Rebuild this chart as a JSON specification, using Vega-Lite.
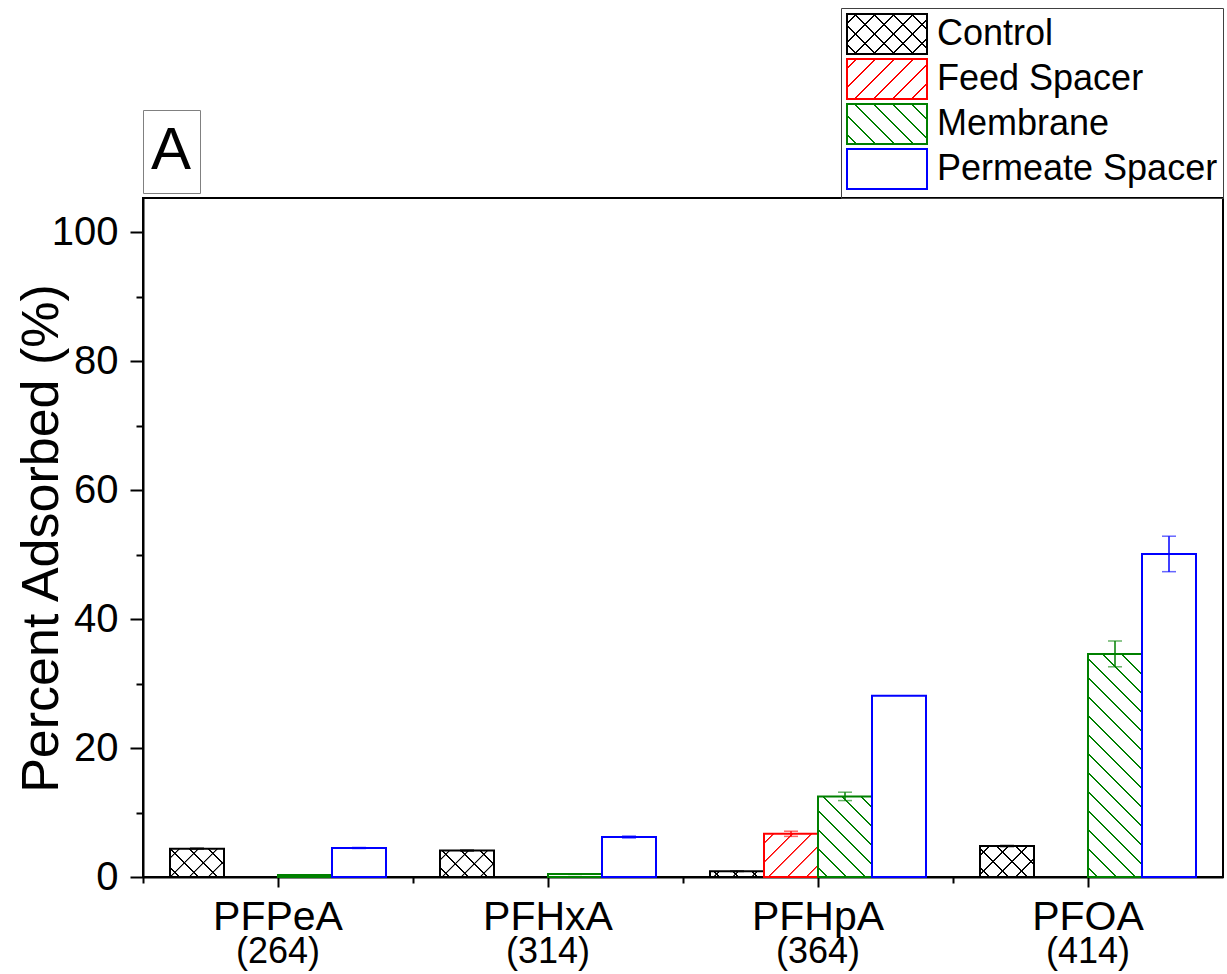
{
"$schema": "https://vega.github.io/schema/vega-lite/v6.json",
"width": 1080, "height": 679,
"autosize": {"type": "none"},
"padding": {"left": 143, "top": 198, "right": 4, "bottom": 97},
"background": "white",
"title": {"text": "A", "anchor": "start", "frame": "group", "fontSize": 60, "font": "Liberation Sans", "fontWeight": "normal", "color": "black", "baseline": "alphabetic", "offset": -221, "dx": 8},
"config": {"view": {"stroke": "black", "strokeWidth": 2}, "font": "Liberation Sans"},
"datasets": {"pfas": [
 {"cat": "PFPeA", "group": "Control", "value": 4.4, "err": 0.1},
 {"cat": "PFPeA", "group": "Feed Spacer", "value": 0, "err": 0},
 {"cat": "PFPeA", "group": "Membrane", "value": 0.3, "err": 0},
 {"cat": "PFPeA", "group": "Permeate Spacer", "value": 4.5, "err": 0.08},
 {"cat": "PFHxA", "group": "Control", "value": 4.1, "err": 0.1},
 {"cat": "PFHxA", "group": "Feed Spacer", "value": 0, "err": 0},
 {"cat": "PFHxA", "group": "Membrane", "value": 0.45, "err": 0.05},
 {"cat": "PFHxA", "group": "Permeate Spacer", "value": 6.2, "err": 0.15},
 {"cat": "PFHpA", "group": "Control", "value": 0.9, "err": 0.05},
 {"cat": "PFHpA", "group": "Feed Spacer", "value": 6.7, "err": 0.4},
 {"cat": "PFHpA", "group": "Membrane", "value": 12.5, "err": 0.65},
 {"cat": "PFHpA", "group": "Permeate Spacer", "value": 28.1, "err": 0},
 {"cat": "PFOA", "group": "Control", "value": 4.8, "err": 0.1},
 {"cat": "PFOA", "group": "Feed Spacer", "value": 0, "err": 0},
 {"cat": "PFOA", "group": "Membrane", "value": 34.6, "err": 2.0},
 {"cat": "PFOA", "group": "Permeate Spacer", "value": 50.1, "err": 2.75}
]},
"data": {"name": "pfas"},
"resolve": {"axis": {"x": "independent", "y": "independent"}, "scale": {"color": "independent"}},
"layer": [
{
 "transform": [{"filter": "datum.value > 0"}],
 "mark": {"type": "bar", "strokeWidth": 2},
 "encoding": {
  "x": {"field": "cat", "type": "nominal", "sort": ["PFPeA", "PFHxA", "PFHpA", "PFOA"],
   "scale": {"domain": ["PFPeA", "PFHxA", "PFHpA", "PFOA"], "paddingInner": 0.2, "paddingOuter": 0.1},
   "axis": {"orient": "bottom", "title": null, "labelAngle": 0, "labelFontSize": 41, "labelFont": "Liberation Sans", "labelColor": "black", "tickSize": 10, "tickWidth": 2, "tickColor": "black", "domainWidth": 2, "domainColor": "black", "labelPadding": 10, "grid": false, "labelBaseline": "top"}},
  "xOffset": {"field": "group", "type": "nominal", "scale": {"domain": ["Control", "Feed Spacer", "Membrane", "Permeate Spacer"], "paddingInner": 0, "paddingOuter": 0}},
  "y": {"field": "value", "type": "quantitative", "scale": {"domain": [0, 105.3], "nice": false, "zero": true},
   "axis": {"orient": "left", "title": "Percent Adsorbed (%)", "titleFontSize": 52, "titleFont": "Liberation Sans", "titleFontWeight": "normal", "titleColor": "black", "titleX": -86, "titleY": 340, "titleAngle": -90, "titleBaseline": "alphabetic", "titleAlign": "center",
    "values": [0, 20, 40, 60, 80, 100], "labelFontSize": 40, "labelFont": "Liberation Sans", "labelColor": "black", "labelPadding": 12,
    "tickSize": 13, "tickWidth": 2, "tickColor": "black", "domainWidth": 2, "domainColor": "black", "grid": false}},
  "stroke": {"condition": [
   {"test": "datum.group === 'Control'", "value": "#000000"},
   {"test": "datum.group === 'Feed Spacer'", "value": "#ff0000"},
   {"test": "datum.group === 'Membrane'", "value": "#008000"}], "value": "#0000ff"},
  "fill": {"condition": [
   {"test": "datum.group === 'Control' && datum.cat === 'PFPeA'", "value": {"gradient": "linear", "x1": 0, "y1": 0, "x2": 1.1954, "y2": 0.6281, "stops": [{"offset": 0.1008, "color": "#fff"}, {"offset": 0.1093, "color": "#000"}, {"offset": 0.1214, "color": "#000"}, {"offset": 0.1299, "color": "#fff"}, {"offset": 0.3314, "color": "#fff"}, {"offset": 0.3399, "color": "#000"}, {"offset": 0.3521, "color": "#000"}, {"offset": 0.3606, "color": "#fff"}, {"offset": 0.5621, "color": "#fff"}, {"offset": 0.5706, "color": "#000"}, {"offset": 0.5827, "color": "#000"}, {"offset": 0.5912, "color": "#fff"}, {"offset": 0.7928, "color": "#fff"}, {"offset": 0.8013, "color": "#000"}, {"offset": 0.8134, "color": "#000"}, {"offset": 0.8219, "color": "#fff"}]}},
   {"test": "datum.group === 'Control' && datum.cat === 'PFHxA'", "value": {"gradient": "linear", "x1": 0, "y1": 0, "x2": 1.2016, "y2": 0.5883, "stops": [{"offset": 0.1032, "color": "#fff"}, {"offset": 0.1119, "color": "#000"}, {"offset": 0.1243, "color": "#000"}, {"offset": 0.133, "color": "#fff"}, {"offset": 0.3394, "color": "#fff"}, {"offset": 0.3481, "color": "#000"}, {"offset": 0.3605, "color": "#000"}, {"offset": 0.3692, "color": "#fff"}, {"offset": 0.5756, "color": "#fff"}, {"offset": 0.5843, "color": "#000"}, {"offset": 0.5967, "color": "#000"}, {"offset": 0.6054, "color": "#fff"}, {"offset": 0.8118, "color": "#fff"}, {"offset": 0.8205, "color": "#000"}, {"offset": 0.8329, "color": "#000"}, {"offset": 0.8416, "color": "#fff"}]}},
   {"test": "datum.group === 'Control' && datum.cat === 'PFHpA'", "value": {"gradient": "linear", "x1": 0, "y1": 0, "x2": 1.0948, "y2": 0.1176, "stops": [{"offset": 0.1388, "color": "#fff"}, {"offset": 0.1505, "color": "#000"}, {"offset": 0.1672, "color": "#000"}, {"offset": 0.1789, "color": "#fff"}, {"offset": 0.4565, "color": "#fff"}, {"offset": 0.4682, "color": "#000"}, {"offset": 0.4849, "color": "#000"}, {"offset": 0.4967, "color": "#fff"}, {"offset": 0.7742, "color": "#fff"}, {"offset": 0.786, "color": "#000"}, {"offset": 0.8027, "color": "#000"}, {"offset": 0.8144, "color": "#fff"}]}},
   {"test": "datum.group === 'Control' && datum.cat === 'PFOA'", "value": {"gradient": "linear", "x1": 0, "y1": 0, "x2": 1.1842, "y2": 0.6787, "stops": [{"offset": 0.0977, "color": "#fff"}, {"offset": 0.1059, "color": "#000"}, {"offset": 0.1177, "color": "#000"}, {"offset": 0.126, "color": "#fff"}, {"offset": 0.3214, "color": "#fff"}, {"offset": 0.3296, "color": "#000"}, {"offset": 0.3414, "color": "#000"}, {"offset": 0.3496, "color": "#fff"}, {"offset": 0.545, "color": "#fff"}, {"offset": 0.5533, "color": "#000"}, {"offset": 0.565, "color": "#000"}, {"offset": 0.5733, "color": "#fff"}, {"offset": 0.7687, "color": "#fff"}, {"offset": 0.7769, "color": "#000"}, {"offset": 0.7887, "color": "#000"}, {"offset": 0.7969, "color": "#fff"}]}},
   {"test": "datum.group === 'Feed Spacer' && datum.cat === 'PFHpA'", "value": {"gradient": "linear", "x1": 0, "y1": 0, "x2": 1.09756, "y2": 0.87805, "stops": [{"offset": 0.0854, "color": "#fff"}, {"offset": 0.0926, "color": "#f00"}, {"offset": 0.1029, "color": "#f00"}, {"offset": 0.1101, "color": "#fff"}, {"offset": 0.2809, "color": "#fff"}, {"offset": 0.2881, "color": "#f00"}, {"offset": 0.2984, "color": "#f00"}, {"offset": 0.3056, "color": "#fff"}, {"offset": 0.4763, "color": "#fff"}, {"offset": 0.4835, "color": "#f00"}, {"offset": 0.4938, "color": "#f00"}, {"offset": 0.501, "color": "#fff"}, {"offset": 0.6718, "color": "#fff"}, {"offset": 0.679, "color": "#f00"}, {"offset": 0.6893, "color": "#f00"}, {"offset": 0.6965, "color": "#fff"}, {"offset": 0.8673, "color": "#fff"}, {"offset": 0.8745, "color": "#f00"}, {"offset": 0.8848, "color": "#f00"}, {"offset": 0.892, "color": "#fff"}]}},
   {"test": "datum.group === 'Membrane' && datum.cat === 'PFHpA'", "value": {"gradient": "linear", "x1": 0, "y1": 1, "x2": 0.77223, "y2": -0.15263, "stops": [{"offset": 0.0617, "color": "#fff"}, {"offset": 0.0669, "color": "#008000"}, {"offset": 0.0743, "color": "#008000"}, {"offset": 0.0795, "color": "#fff"}, {"offset": 0.2028, "color": "#fff"}, {"offset": 0.208, "color": "#008000"}, {"offset": 0.2155, "color": "#008000"}, {"offset": 0.2207, "color": "#fff"}, {"offset": 0.344, "color": "#fff"}, {"offset": 0.3492, "color": "#008000"}, {"offset": 0.3566, "color": "#008000"}, {"offset": 0.3618, "color": "#fff"}, {"offset": 0.4851, "color": "#fff"}, {"offset": 0.4903, "color": "#008000"}, {"offset": 0.4978, "color": "#008000"}, {"offset": 0.503, "color": "#fff"}, {"offset": 0.6263, "color": "#fff"}, {"offset": 0.6315, "color": "#008000"}, {"offset": 0.6389, "color": "#008000"}, {"offset": 0.6441, "color": "#fff"}, {"offset": 0.7675, "color": "#fff"}, {"offset": 0.7727, "color": "#008000"}, {"offset": 0.7801, "color": "#008000"}, {"offset": 0.7853, "color": "#fff"}, {"offset": 0.9086, "color": "#fff"}, {"offset": 0.9138, "color": "#008000"}, {"offset": 0.9212, "color": "#008000"}, {"offset": 0.9264, "color": "#fff"}]}},
   {"test": "datum.group === 'Membrane' && datum.cat === 'PFOA'", "value": {"gradient": "linear", "x1": 0, "y1": 1, "x2": 0.28398, "y2": -0.17331, "stops": [{"offset": 0.02995, "color": "#fff"}, {"offset": 0.03248, "color": "#008000"}, {"offset": 0.03608, "color": "#008000"}, {"offset": 0.03861, "color": "#fff"}, {"offset": 0.09852, "color": "#fff"}, {"offset": 0.10105, "color": "#008000"}, {"offset": 0.10465, "color": "#008000"}, {"offset": 0.10718, "color": "#fff"}, {"offset": 0.16708, "color": "#fff"}, {"offset": 0.16961, "color": "#008000"}, {"offset": 0.17321, "color": "#008000"}, {"offset": 0.17574, "color": "#fff"}, {"offset": 0.23565, "color": "#fff"}, {"offset": 0.23818, "color": "#008000"}, {"offset": 0.24178, "color": "#008000"}, {"offset": 0.24431, "color": "#fff"}, {"offset": 0.30421, "color": "#fff"}, {"offset": 0.30674, "color": "#008000"}, {"offset": 0.31034, "color": "#008000"}, {"offset": 0.31287, "color": "#fff"}, {"offset": 0.37278, "color": "#fff"}, {"offset": 0.37531, "color": "#008000"}, {"offset": 0.37891, "color": "#008000"}, {"offset": 0.38144, "color": "#fff"}, {"offset": 0.44134, "color": "#fff"}, {"offset": 0.44387, "color": "#008000"}, {"offset": 0.44747, "color": "#008000"}, {"offset": 0.45, "color": "#fff"}, {"offset": 0.50991, "color": "#fff"}, {"offset": 0.51244, "color": "#008000"}, {"offset": 0.51604, "color": "#008000"}, {"offset": 0.51857, "color": "#fff"}, {"offset": 0.57847, "color": "#fff"}, {"offset": 0.581, "color": "#008000"}, {"offset": 0.5846, "color": "#008000"}, {"offset": 0.58713, "color": "#fff"}, {"offset": 0.64704, "color": "#fff"}, {"offset": 0.64957, "color": "#008000"}, {"offset": 0.65317, "color": "#008000"}, {"offset": 0.6557, "color": "#fff"}, {"offset": 0.7156, "color": "#fff"}, {"offset": 0.71813, "color": "#008000"}, {"offset": 0.72173, "color": "#008000"}, {"offset": 0.72426, "color": "#fff"}, {"offset": 0.78417, "color": "#fff"}, {"offset": 0.7867, "color": "#008000"}, {"offset": 0.7903, "color": "#008000"}, {"offset": 0.79283, "color": "#fff"}, {"offset": 0.85273, "color": "#fff"}, {"offset": 0.85526, "color": "#008000"}, {"offset": 0.85886, "color": "#008000"}, {"offset": 0.86139, "color": "#fff"}, {"offset": 0.9213, "color": "#fff"}, {"offset": 0.92383, "color": "#008000"}, {"offset": 0.92743, "color": "#008000"}, {"offset": 0.92996, "color": "#fff"}, {"offset": 0.98986, "color": "#fff"}, {"offset": 0.99239, "color": "#008000"}, {"offset": 0.99599, "color": "#008000"}, {"offset": 0.99852, "color": "#fff"}]}}
  ], "value": "#ffffff"}
 }
},
{
 "transform": [{"filter": "datum.group === 'Control'"}],
 "mark": {"type": "bar", "strokeWidth": 0},
 "encoding": {
  "x": {"field": "cat", "type": "nominal", "sort": ["PFPeA", "PFHxA", "PFHpA", "PFOA"],
   "scale": {"domain": ["PFPeA", "PFHxA", "PFHpA", "PFOA"], "paddingInner": 0.2, "paddingOuter": 0.1},
   "axis": {"orient": "bottom", "title": null, "domain": false, "bandPosition": -0.125, "tickSize": 6, "tickWidth": 2, "tickColor": "black", "labelAngle": 0, "labelFontSize": 36, "labelFont": "Liberation Sans", "labelColor": "black", "labelOffset": 0, "labelPadding": 51, "labelBaseline": "top", "grid": false,
    "labelExpr": "datum.value === 'PFPeA' ? '(264)' : datum.value === 'PFHxA' ? '(314)' : datum.value === 'PFHpA' ? '(364)' : '(414)'"}},
  "xOffset": {"field": "group", "type": "nominal", "scale": {"domain": ["Control", "Feed Spacer", "Membrane", "Permeate Spacer"], "paddingInner": 0, "paddingOuter": 0}},
  "y": {"field": "value", "type": "quantitative", "scale": {"domain": [0, 105.3], "nice": false, "zero": true},
   "axis": {"orient": "left", "title": null, "domain": false, "labels": false, "grid": false, "values": [10, 30, 50, 70, 90], "tickSize": 7, "tickWidth": 2, "tickColor": "black"}},
  "fill": {"condition": [
   {"test": "datum.cat === 'PFPeA'", "value": {"gradient": "linear", "x1": 0, "y1": 1, "x2": 1.1954, "y2": 0.3719, "stops": [{"offset": 0.1008, "color": "rgba(0,0,0,0)"}, {"offset": 0.1093, "color": "#000"}, {"offset": 0.1214, "color": "#000"}, {"offset": 0.1299, "color": "rgba(0,0,0,0)"}, {"offset": 0.3314, "color": "rgba(0,0,0,0)"}, {"offset": 0.3399, "color": "#000"}, {"offset": 0.3521, "color": "#000"}, {"offset": 0.3606, "color": "rgba(0,0,0,0)"}, {"offset": 0.5621, "color": "rgba(0,0,0,0)"}, {"offset": 0.5706, "color": "#000"}, {"offset": 0.5827, "color": "#000"}, {"offset": 0.5912, "color": "rgba(0,0,0,0)"}, {"offset": 0.7928, "color": "rgba(0,0,0,0)"}, {"offset": 0.8013, "color": "#000"}, {"offset": 0.8134, "color": "#000"}, {"offset": 0.8219, "color": "rgba(0,0,0,0)"}]}},
   {"test": "datum.cat === 'PFHxA'", "value": {"gradient": "linear", "x1": 0, "y1": 1, "x2": 1.2016, "y2": 0.4117, "stops": [{"offset": 0.1032, "color": "rgba(0,0,0,0)"}, {"offset": 0.1119, "color": "#000"}, {"offset": 0.1243, "color": "#000"}, {"offset": 0.133, "color": "rgba(0,0,0,0)"}, {"offset": 0.3394, "color": "rgba(0,0,0,0)"}, {"offset": 0.3481, "color": "#000"}, {"offset": 0.3605, "color": "#000"}, {"offset": 0.3692, "color": "rgba(0,0,0,0)"}, {"offset": 0.5756, "color": "rgba(0,0,0,0)"}, {"offset": 0.5843, "color": "#000"}, {"offset": 0.5967, "color": "#000"}, {"offset": 0.6054, "color": "rgba(0,0,0,0)"}, {"offset": 0.8118, "color": "rgba(0,0,0,0)"}, {"offset": 0.8205, "color": "#000"}, {"offset": 0.8329, "color": "#000"}, {"offset": 0.8416, "color": "rgba(0,0,0,0)"}]}},
   {"test": "datum.cat === 'PFHpA'", "value": {"gradient": "linear", "x1": 0, "y1": 1, "x2": 1.0948, "y2": 0.8824, "stops": [{"offset": 0.1388, "color": "rgba(0,0,0,0)"}, {"offset": 0.1505, "color": "#000"}, {"offset": 0.1672, "color": "#000"}, {"offset": 0.1789, "color": "rgba(0,0,0,0)"}, {"offset": 0.4565, "color": "rgba(0,0,0,0)"}, {"offset": 0.4682, "color": "#000"}, {"offset": 0.4849, "color": "#000"}, {"offset": 0.4967, "color": "rgba(0,0,0,0)"}, {"offset": 0.7742, "color": "rgba(0,0,0,0)"}, {"offset": 0.786, "color": "#000"}, {"offset": 0.8027, "color": "#000"}, {"offset": 0.8144, "color": "rgba(0,0,0,0)"}]}},
   {"test": "datum.cat === 'PFOA'", "value": {"gradient": "linear", "x1": 0, "y1": 1, "x2": 1.1842, "y2": 0.3213, "stops": [{"offset": 0.0977, "color": "rgba(0,0,0,0)"}, {"offset": 0.1059, "color": "#000"}, {"offset": 0.1177, "color": "#000"}, {"offset": 0.126, "color": "rgba(0,0,0,0)"}, {"offset": 0.3214, "color": "rgba(0,0,0,0)"}, {"offset": 0.3296, "color": "#000"}, {"offset": 0.3414, "color": "#000"}, {"offset": 0.3496, "color": "rgba(0,0,0,0)"}, {"offset": 0.545, "color": "rgba(0,0,0,0)"}, {"offset": 0.5533, "color": "#000"}, {"offset": 0.565, "color": "#000"}, {"offset": 0.5733, "color": "rgba(0,0,0,0)"}, {"offset": 0.7687, "color": "rgba(0,0,0,0)"}, {"offset": 0.7769, "color": "#000"}, {"offset": 0.7887, "color": "#000"}, {"offset": 0.7969, "color": "rgba(0,0,0,0)"}]}}
  ], "value": "rgba(0,0,0,0)"}
 }
},
{
 "transform": [{"filter": "datum.err > 0"}],
 "mark": {"type": "errorbar", "ticks": {"size": 14, "thickness": 1.5, "opacity": 0.6}, "rule": {"strokeWidth": 1.5}},
 "encoding": {
  "x": {"field": "cat", "type": "nominal", "sort": ["PFPeA", "PFHxA", "PFHpA", "PFOA"],
   "scale": {"domain": ["PFPeA", "PFHxA", "PFHpA", "PFOA"], "paddingInner": 0.2, "paddingOuter": 0.1}, "axis": null},
  "xOffset": {"field": "group", "type": "nominal", "scale": {"domain": ["Control", "Feed Spacer", "Membrane", "Permeate Spacer"], "paddingInner": 0, "paddingOuter": 0}},
  "y": {"field": "value", "type": "quantitative", "scale": {"domain": [0, 105.3], "nice": false, "zero": true}, "axis": null},
  "yError": {"field": "err"},
  "color": {"field": "group", "type": "nominal", "scale": {"domain": ["Control", "Feed Spacer", "Membrane", "Permeate Spacer"], "range": ["#000000", "#ff0000", "#008000", "#0000ff"]}, "legend": null}
 }
},
{
 "transform": [{"filter": "false"}],
 "mark": {"type": "bar", "strokeWidth": 2},
 "encoding": {
  "x": {"field": "cat", "type": "nominal", "scale": {"domain": ["PFPeA", "PFHxA", "PFHpA", "PFOA"], "paddingInner": 0.2, "paddingOuter": 0.1}, "axis": null},
  "y": {"field": "value", "type": "quantitative", "scale": {"domain": [0, 105.3], "nice": false, "zero": true}, "axis": null},
  "stroke": {"field": "group", "type": "nominal", "scale": {"domain": ["Control", "Feed Spacer", "Membrane", "Permeate Spacer"], "range": ["#000000", "#ff0000", "#008000", "#0000ff"]},
   "legend": {"orient": "none", "legendX": 698, "legendY": -190, "title": null, "symbolType": "M-1,-1H3V1H-1Z", "symbolSize": 1600, "symbolStrokeWidth": 2, "labelFontSize": 36, "labelFont": "Liberation Sans", "labelColor": "black", "labelLimit": 500, "labelOffset": 49, "rowPadding": -3.3, "padding": 5, "strokeColor": "#404040"}},
  "fill": {"field": "group", "type": "nominal",
   "scale": {"domain": ["Control", "Feed Spacer", "Membrane", "Permeate Spacer"], "range": [
    {"expr": "{gradient: 'linear', x1: 0, y1: 0, x2: 1.2, y2: 0.6, stops: [{offset: 0.0692, color: 'rgba(0,0,0,0)'}, {offset: 0.075, color: '#000'}, {offset: 0.0833, color: '#000'}, {offset: 0.0892, color: 'rgba(0,0,0,0)'}, {offset: 0.2275, color: 'rgba(0,0,0,0)'}, {offset: 0.2333, color: '#000'}, {offset: 0.2417, color: '#000'}, {offset: 0.2475, color: 'rgba(0,0,0,0)'}, {offset: 0.3858, color: 'rgba(0,0,0,0)'}, {offset: 0.3917, color: '#000'}, {offset: 0.4, color: '#000'}, {offset: 0.4058, color: 'rgba(0,0,0,0)'}, {offset: 0.5442, color: 'rgba(0,0,0,0)'}, {offset: 0.55, color: '#000'}, {offset: 0.5583, color: '#000'}, {offset: 0.5642, color: 'rgba(0,0,0,0)'}, {offset: 0.7025, color: 'rgba(0,0,0,0)'}, {offset: 0.7083, color: '#000'}, {offset: 0.7167, color: '#000'}, {offset: 0.7225, color: 'rgba(0,0,0,0)'}, {offset: 0.8608, color: 'rgba(0,0,0,0)'}, {offset: 0.8667, color: '#000'}, {offset: 0.875, color: '#000'}, {offset: 0.8808, color: 'rgba(0,0,0,0)'}]}"},
    {"expr": "{gradient: 'linear', x1: 0, y1: 0, x2: 1.2, y2: 0.6, stops: [{offset: 0.0692, color: 'rgba(0,0,0,0)'}, {offset: 0.075, color: '#f00'}, {offset: 0.0833, color: '#f00'}, {offset: 0.0892, color: 'rgba(0,0,0,0)'}, {offset: 0.2275, color: 'rgba(0,0,0,0)'}, {offset: 0.2333, color: '#f00'}, {offset: 0.2417, color: '#f00'}, {offset: 0.2475, color: 'rgba(0,0,0,0)'}, {offset: 0.3858, color: 'rgba(0,0,0,0)'}, {offset: 0.3917, color: '#f00'}, {offset: 0.4, color: '#f00'}, {offset: 0.4058, color: 'rgba(0,0,0,0)'}, {offset: 0.5442, color: 'rgba(0,0,0,0)'}, {offset: 0.55, color: '#f00'}, {offset: 0.5583, color: '#f00'}, {offset: 0.5642, color: 'rgba(0,0,0,0)'}, {offset: 0.7025, color: 'rgba(0,0,0,0)'}, {offset: 0.7083, color: '#f00'}, {offset: 0.7167, color: '#f00'}, {offset: 0.7225, color: 'rgba(0,0,0,0)'}, {offset: 0.8608, color: 'rgba(0,0,0,0)'}, {offset: 0.8667, color: '#f00'}, {offset: 0.875, color: '#f00'}, {offset: 0.8808, color: 'rgba(0,0,0,0)'}]}"},
    {"expr": "{gradient: 'linear', x1: 0, y1: 1, x2: 1.2, y2: 0.4, stops: [{offset: 0.0692, color: 'rgba(0,0,0,0)'}, {offset: 0.075, color: '#008000'}, {offset: 0.0833, color: '#008000'}, {offset: 0.0892, color: 'rgba(0,0,0,0)'}, {offset: 0.2275, color: 'rgba(0,0,0,0)'}, {offset: 0.2333, color: '#008000'}, {offset: 0.2417, color: '#008000'}, {offset: 0.2475, color: 'rgba(0,0,0,0)'}, {offset: 0.3858, color: 'rgba(0,0,0,0)'}, {offset: 0.3917, color: '#008000'}, {offset: 0.4, color: '#008000'}, {offset: 0.4058, color: 'rgba(0,0,0,0)'}, {offset: 0.5442, color: 'rgba(0,0,0,0)'}, {offset: 0.55, color: '#008000'}, {offset: 0.5583, color: '#008000'}, {offset: 0.5642, color: 'rgba(0,0,0,0)'}, {offset: 0.7025, color: 'rgba(0,0,0,0)'}, {offset: 0.7083, color: '#008000'}, {offset: 0.7167, color: '#008000'}, {offset: 0.7225, color: 'rgba(0,0,0,0)'}, {offset: 0.8608, color: 'rgba(0,0,0,0)'}, {offset: 0.8667, color: '#008000'}, {offset: 0.875, color: '#008000'}, {offset: 0.8808, color: 'rgba(0,0,0,0)'}]}"},
    "rgba(0,0,0,0)"]},
   "legend": {"orient": "none", "legendX": 698, "legendY": -190, "title": null, "symbolType": "M-1,-1H3V1H-1Z", "symbolSize": 1600, "symbolStrokeWidth": 2, "labelFontSize": 36, "labelFont": "Liberation Sans", "labelColor": "black", "labelLimit": 500, "labelOffset": 49, "rowPadding": -3.3, "padding": 5, "strokeColor": "#404040"}}
 }
},
{
 "transform": [{"filter": "false"}],
 "mark": {"type": "bar"},
 "encoding": {
  "x": {"field": "cat", "type": "nominal", "scale": {"domain": ["PFPeA", "PFHxA", "PFHpA", "PFOA"], "paddingInner": 0.2, "paddingOuter": 0.1}, "axis": null},
  "y": {"field": "value", "type": "quantitative", "scale": {"domain": [0, 105.3], "nice": false, "zero": true}, "axis": null},
  "color": {"field": "group", "type": "nominal",
   "scale": {"domain": ["Control"], "range": [
    {"expr": "{gradient: 'linear', x1: 0, y1: 1, x2: 1.2, y2: 0.4, stops: [{offset: 0.0692, color: 'rgba(0,0,0,0)'}, {offset: 0.075, color: '#000'}, {offset: 0.0833, color: '#000'}, {offset: 0.0892, color: 'rgba(0,0,0,0)'}, {offset: 0.2275, color: 'rgba(0,0,0,0)'}, {offset: 0.2333, color: '#000'}, {offset: 0.2417, color: '#000'}, {offset: 0.2475, color: 'rgba(0,0,0,0)'}, {offset: 0.3858, color: 'rgba(0,0,0,0)'}, {offset: 0.3917, color: '#000'}, {offset: 0.4, color: '#000'}, {offset: 0.4058, color: 'rgba(0,0,0,0)'}, {offset: 0.5442, color: 'rgba(0,0,0,0)'}, {offset: 0.55, color: '#000'}, {offset: 0.5583, color: '#000'}, {offset: 0.5642, color: 'rgba(0,0,0,0)'}, {offset: 0.7025, color: 'rgba(0,0,0,0)'}, {offset: 0.7083, color: '#000'}, {offset: 0.7167, color: '#000'}, {offset: 0.7225, color: 'rgba(0,0,0,0)'}, {offset: 0.8608, color: 'rgba(0,0,0,0)'}, {offset: 0.8667, color: '#000'}, {offset: 0.875, color: '#000'}, {offset: 0.8808, color: 'rgba(0,0,0,0)'}]}"}]},
   "legend": {"orient": "none", "legendX": 698, "legendY": -190, "title": null, "symbolType": "M-1,-1H3V1H-1Z", "symbolSize": 1600, "symbolStrokeWidth": 2, "symbolStrokeColor": "transparent", "labelFontSize": 36, "labelFont": "Liberation Sans", "labelOpacity": 0, "labelLimit": 500, "labelOffset": 49, "rowPadding": -3.3, "padding": 5}}
 }
},
{
 "transform": [{"filter": "false"}],
 "mark": {"type": "bar"},
 "encoding": {
  "x": {"field": "cat", "type": "nominal", "scale": {"domain": ["PFPeA", "PFHxA", "PFHpA", "PFOA"], "paddingInner": 0.2, "paddingOuter": 0.1}, "axis": null},
  "y": {"field": "value", "type": "quantitative", "scale": {"domain": [0, 105.3], "nice": false, "zero": true}, "axis": null},
  "size": {"field": "group", "type": "nominal", "scale": {"domain": ["A"], "range": [0]},
   "legend": {"orient": "none", "legendX": 0, "legendY": -88, "title": " ", "titleFontSize": 30, "titlePadding": 7, "titleOpacity": 0, "symbolOpacity": 0, "symbolStrokeWidth": 0, "labelFontSize": 60, "labelFont": "Liberation Sans", "labelOpacity": 0, "labelOffset": 0, "padding": 8, "strokeColor": "#808080"}}
 }
}
]
}
